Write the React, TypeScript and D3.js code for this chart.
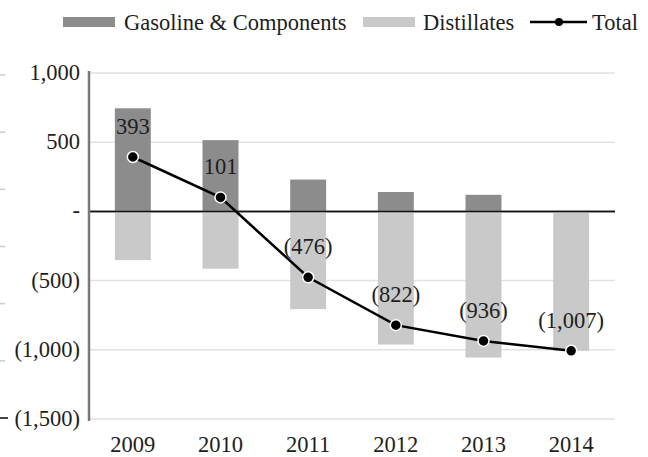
import React from "react";
import * as d3 from "d3";

const years = ["2009", "2010", "2011", "2012", "2013", "2014"];
const gasoline = [745, 515, 230, 140, 120, 0];
const distillates = [-352, -414, -706, -962, -1056, -1007];
const total = [393, 101, -476, -822, -936, -1007];
const yTicks = [1000, 500, 0, -500, -1000, -1500];

const W = 648;
const H = 457;
const FONT = "'Liberation Serif', 'Times New Roman', serif";
const FS = 22.5;
const GAS = "#8c8c8c";
const DIST = "#c9c9c9";
const INK = "#1e1e1e";

const fmt = (v: number) => {
  if (v === 0) return "-";
  const s = d3.format(",")(Math.abs(v));
  return v < 0 ? `(${s})` : s;
};

export default function App() {
  const x = d3
    .scaleBand<string>()
    .domain(years)
    .range([89, 615])
    .paddingInner(0.59)
    .paddingOuter(0.295);
  const y = d3.scaleLinear().domain([-1500, 1000]).range([419, 73]);
  const cx = (i: number) => (x(years[i]) ?? 0) + x.bandwidth() / 2;

  const line = d3
    .line<number>()
    .x((_, i) => cx(i))
    .y((d) => y(d));

  // faint leftover ticks along the left edge
  const edge = d3.scaleLinear().domain([0, 6]).range([75, 418]);
  const edgeTicks = d3.range(0, 7);

  return (
    <svg
      width={W}
      height={H}
      style={{ position: "absolute", left: 0, top: 0, background: "#fff" }}
      fontFamily={FONT}
    >
      {edgeTicks.map((t) => (
        <line
          key={`e${t}`}
          x1={0}
          x2={t === 6 ? 8 : 5}
          y1={edge(t)}
          y2={edge(t)}
          stroke={t === 6 ? "#444" : "#ccc"}
          strokeWidth={t === 6 ? 2 : 1.5}
        />
      ))}

      {/* gridlines */}
      {yTicks.map((t) => (
        <line
          key={`g${t}`}
          x1={89}
          x2={615}
          y1={y(t)}
          y2={y(t)}
          stroke={t === 0 ? "#111" : "#e2e2e2"}
          strokeWidth={1.5}
        />
      ))}

      {/* bars */}
      {years.map((yr, i) => (
        <g key={`b${yr}`}>
          {gasoline[i] > 0 && (
            <rect
              x={x(yr)}
              width={x.bandwidth()}
              y={y(gasoline[i])}
              height={y(0) - y(gasoline[i])}
              fill={GAS}
            />
          )}
          <rect
            x={x(yr)}
            width={x.bandwidth()}
            y={y(0)}
            height={y(distillates[i]) - y(0)}
            fill={DIST}
          />
        </g>
      ))}

      {/* zero line drawn over bars */}
      <line x1={89} x2={615} y1={y(0)} y2={y(0)} stroke="#111" strokeWidth={1.5} />

      {/* y axis */}
      <line x1={89} x2={89} y1={71} y2={421} stroke="#7a7a7a" strokeWidth={2.5} />
      {yTicks.map((t) => (
        <text
          key={`yl${t}`}
          x={80}
          y={y(t) + 7}
          textAnchor="end"
          fontSize={FS}
          fill={INK}
        >
          {fmt(t)}
        </text>
      ))}

      {/* x labels */}
      {years.map((yr, i) => (
        <text key={`xl${yr}`} x={cx(i)} y={452} textAnchor="middle" fontSize={FS} fill={INK}>
          {yr}
        </text>
      ))}

      {/* total line */}
      <path d={line(total) ?? ""} fill="none" stroke="#000" strokeWidth={2.5} />
      {total.map((v, i) => (
        <g key={`p${i}`}>
          <circle cx={cx(i)} cy={y(v)} r={5.5} fill="#000" stroke="#fff" strokeWidth={1.5} />
          <text x={cx(i)} y={y(v) - 23} textAnchor="middle" fontSize={FS} fill={INK}>
            {fmt(v)}
          </text>
        </g>
      ))}

      {/* legend */}
      <g>
        <rect x={63} y={17} width={52} height={10} fill={GAS} />
        <text x={124} y={30} fontSize={FS} fill={INK}>
          Gasoline &amp; Components
        </text>
        <rect x={363} y={17} width={52} height={10} fill={DIST} />
        <text x={423} y={30} fontSize={FS} fill={INK}>
          Distillates
        </text>
        <line x1={530} x2={587} y1={22} y2={22} stroke="#000" strokeWidth={2.5} />
        <circle cx={559} cy={22} r={4} fill="#000" />
        <text x={592} y={30} fontSize={FS} fill={INK}>
          Total
        </text>
      </g>
    </svg>
  );
}
